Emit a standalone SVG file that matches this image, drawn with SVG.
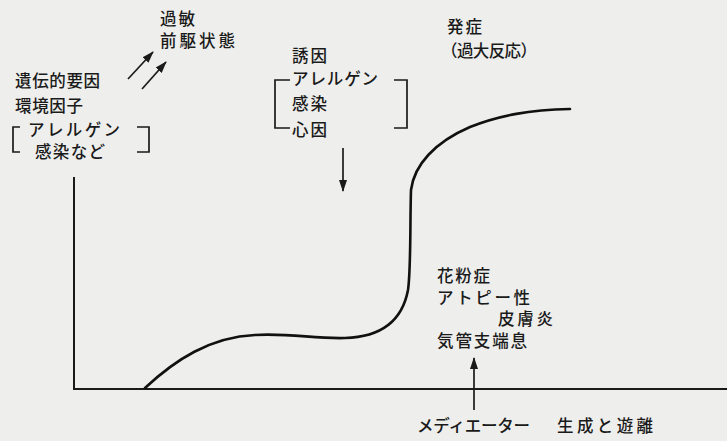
<svg xmlns="http://www.w3.org/2000/svg" width="727" height="441" viewBox="0 0 727 441">
<style>
text{font-family:"Noto Sans CJK JP","Noto Sans",sans-serif;font-size:16.5px;font-weight:500;fill:#1a1a1a}
.ln{stroke:#1a1a1a;stroke-width:1.7;fill:none}
.ax{stroke:#1a1a1a;stroke-width:2;fill:none}
.cv{stroke:#111;stroke-width:2.6;fill:none;stroke-linecap:round}
</style>
<defs>
<marker id="ah" viewBox="0 0 12 10" refX="11" refY="5" markerWidth="12" markerHeight="10" markerUnits="userSpaceOnUse" orient="auto">
<path d="M0,1 L12,5 L0,9 Z" fill="#1a1a1a"/>
</marker>
</defs>
<rect width="727" height="441" fill="#eeeeec"/>
<g id="axes">
<path class="ax" d="M74,177 V389 H727"/>
</g>
<g id="curve">
<path class="cv" d="M145,388 C175,360 210,337 255,335 C290,333 315,339 345,338 C380,337 402,322 408,290 C411,270 410,220 411,190 C414,165 435,142 470,127 C500,115 530,110 570,109"/>
</g>
<g id="connectors">
<line class="ln" x1="128" y1="79" x2="153" y2="52" marker-end="url(#ah)"/>
<line class="ln" x1="142" y1="89" x2="166" y2="62" marker-end="url(#ah)"/>
<line class="ln" x1="343" y1="148" x2="343" y2="191" marker-end="url(#ah)"/>
<line class="ln" x1="474" y1="410" x2="474" y2="358" marker-end="url(#ah)"/>
</g>
<g id="precursor">
<text x="160" y="25" textLength="35" lengthAdjust="spacing">過敏</text>
<text x="160" y="47" textLength="75" lengthAdjust="spacing">前駆状態</text>
</g>
<g id="genetic">
<text x="15" y="87" textLength="85" lengthAdjust="spacing">遺伝的要因</text>
<text x="15" y="112" textLength="68" lengthAdjust="spacing">環境因子</text>
<text x="28" y="136" textLength="92" lengthAdjust="spacing">アレルゲン</text>
<text x="35" y="158" textLength="70" lengthAdjust="spacing">感染など</text>
<path class="ln" d="M20,127 H13 V152 H20"/>
<path class="ln" d="M137,127 H149 V152 H137"/>
</g>
<g id="trigger">
<text x="292" y="62" textLength="35" lengthAdjust="spacing">誘因</text>
<text x="292" y="85" textLength="86" lengthAdjust="spacing">アレルゲン</text>
<text x="292" y="110" textLength="35" lengthAdjust="spacing">感染</text>
<text x="292" y="136" textLength="35" lengthAdjust="spacing">心因</text>
<path class="ln" d="M290,80 H275 V128 H290"/>
<path class="ln" d="M394,80 H407 V128 H394"/>
</g>
<g id="onset">
<text x="447" y="33" textLength="35" lengthAdjust="spacing">発症</text>
<text x="441" y="57" textLength="96" lengthAdjust="spacing">（過大反応）</text>
</g>
<g id="diseases">
<text x="437" y="282" textLength="53" lengthAdjust="spacing">花粉症</text>
<text x="437" y="304" textLength="93" lengthAdjust="spacing">アトピー性</text>
<text x="498" y="325" textLength="55" lengthAdjust="spacing">皮膚炎</text>
<text x="437" y="347" textLength="90" lengthAdjust="spacing">気管支端息</text>
</g>
<g id="mediator">
<text x="417" y="432" textLength="113" lengthAdjust="spacing">メディエーター</text>
<text x="557" y="432" textLength="96" lengthAdjust="spacing">生成と遊離</text>
</g>
</svg>
